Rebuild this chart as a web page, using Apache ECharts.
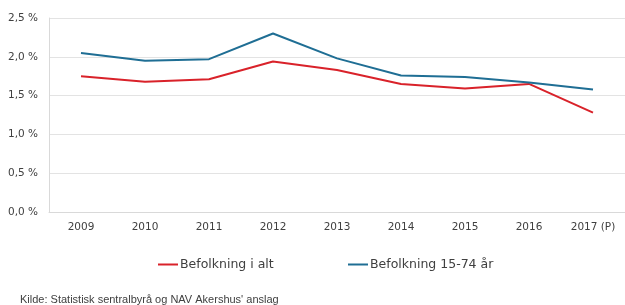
<!DOCTYPE html>
<html><head><meta charset="utf-8">
<script src="https://cdn.jsdelivr.net/npm/echarts@6/dist/echarts.min.js"></script>
<style>html,body{margin:0;padding:0;background:#fff}#c{width:625px;height:305px}</style>
</head><body><div id="c"></div>
<script>
const categories = ['2009','2010','2011','2012','2013','2014','2015','2016','2017 (P)'];
const befolkningIAlt = [1.75,1.68,1.71,1.94,1.83,1.65,1.59,1.65,1.28];
const befolkning1574 = [2.05,1.95,1.97,2.30,1.98,1.76,1.74,1.67,1.58];
const yTicks = [0,0.5,1.0,1.5,2.0,2.5];
const seriesNames = ['Befolkning i alt','Befolkning 15-74 år'];
const source = "Kilde: Statistisk sentralbyrå og NAV Akershus' anslag";

const RED = '#D9222A', BLUE = '#1F6E94';
const chart = echarts.init(document.getElementById('c'));
const legendBase = {
  orient:'horizontal', top:258, padding:0, itemWidth:20, itemHeight:2, icon:'rect',
  textStyle:{fontFamily:'DejaVu Sans', fontSize:12.5, color:'#404040', padding:[0,0,0,-3]}
};
chart.setOption({
  animation:false,
  grid:{left:49, right:0, top:18, bottom:93, containLabel:false},
  legend:[
    Object.assign({}, legendBase, {left:158, data:[seriesNames[0]]}),
    Object.assign({}, legendBase, {left:348, data:[seriesNames[1]]})
  ],
  xAxis:{type:'category', data:categories, boundaryGap:true,
    axisLine:{show:true, lineStyle:{color:'#D9D9D9', width:1}},
    axisTick:{show:false},
    axisLabel:{fontFamily:'DejaVu Sans', fontSize:10.5, color:'#404040', margin:10}},
  yAxis:{type:'value', min:yTicks[0], max:yTicks[yTicks.length-1], interval:0.5,
    axisLine:{show:true, lineStyle:{color:'#D9D9D9', width:1}},
    axisTick:{show:false},
    splitLine:{lineStyle:{color:'#E3E3E3', width:1}},
    axisLabel:{fontFamily:'DejaVu Sans', fontSize:10.5, color:'#404040', margin:11,
      formatter:v=>v.toFixed(1).replace('.',',')+' %'}},
  series:[
    {name:seriesNames[0], type:'line', data:befolkningIAlt, symbol:'none',
      lineStyle:{color:RED, width:2}, itemStyle:{color:RED}},
    {name:seriesNames[1], type:'line', data:befolkning1574, symbol:'none',
      lineStyle:{color:BLUE, width:2}, itemStyle:{color:BLUE}}
  ],
  graphic:[{type:'text', left:20, top:294,
    style:{text:source, font:'11px "Liberation Sans"', fill:'#404040'}}]
});
</script></body></html>
